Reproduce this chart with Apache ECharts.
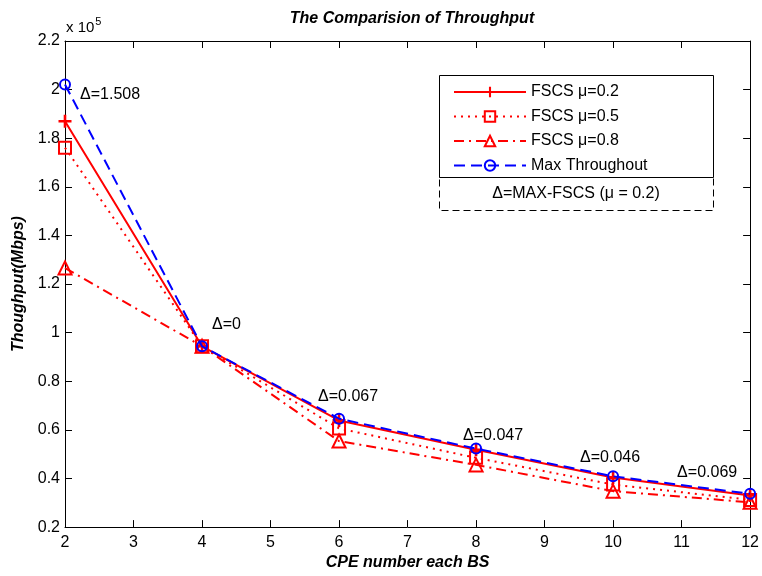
<!DOCTYPE html>
<html>
<head>
<meta charset="utf-8">
<script src="https://cdn.jsdelivr.net/npm/echarts@6/dist/echarts.min.js"></script>
<style>
html,body{margin:0;padding:0;background:#fff;}
#chart{width:762px;height:576px;}
</style>
</head>
<body>
<div id="chart"></div>
<script>
// ---- data (throughput values, raw units) ----
var cpeNumbers = [2, 4, 6, 8, 10, 12];
var fscs02 = [187000, 94400, 63900, 51800, 40400, 33000];
var fscs05 = [176100, 94400, 60600, 48500, 37500, 31200];
var fscs08 = [126600, 94400, 55400, 45600, 34800, 30200];
var maxThroughput = [202100, 94400, 64600, 52300, 40900, 33700];
var deltaLabels = ['\u0394=1.508', '\u0394=0', '\u0394=0.067', '\u0394=0.047', '\u0394=0.046', '\u0394=0.069'];
var seriesNames = ['FSCS \u03bc=0.2', 'FSCS \u03bc=0.5', 'FSCS \u03bc=0.8', 'Max Throughout'];
var yTicks = [20000, 220000, 20000]; // min, max, interval
var xTicks = [2, 12, 1];

function pairs(vals) { return cpeNumbers.map(function (x, i) { return [x, vals[i]]; }); }

var FONT = '"Liberation Sans", Arial, sans-serif';
var RED = '#ff0000', BLUE = '#0000ff';
var labelOffsets = [[15, 10], [10, -22], [-21, -22], [-13, -13], [-33, -19], [-73, -21]];

var maxData = pairs(maxThroughput).map(function (p, i) {
  return {
    value: p,
    label: {
      show: true, formatter: deltaLabels[i], position: 'inside', align: 'left', verticalAlign: 'middle',
      offset: labelOffsets[i], color: '#000', fontSize: 16, fontFamily: FONT
    }
  };
});

var plusPath = 'path://M4,0 H6 V4 H10 V6 H6 V10 H4 V6 H0 V4 H4 Z';

var axisCommon = {
  type: 'value',
  axisLine: { show: true, onZero: false, lineStyle: { color: '#000', width: 1 } },
  axisTick: { show: true, inside: true, length: 7, lineStyle: { color: '#000' } },
  splitLine: { show: false }
};

var option = {
  backgroundColor: '#fff',
  animation: false,
  title: {
    text: 'The Comparision of Throughput',
    left: 407, top: 6, textAlign: 'center',
    textStyle: { fontFamily: FONT, fontSize: 16, fontWeight: 'bold', fontStyle: 'italic', color: '#000' }
  },
  grid: { left: 65, right: 7, top: 41, bottom: 43, containLabel: false },
  legend: {
    orient: 'vertical', left: 448, top: 79, z: 110,
    itemWidth: 72, itemHeight: 13, itemGap: 8.5,
    textStyle: { fontFamily: FONT, fontSize: 16, color: '#000' },
    data: seriesNames
  },
  xAxis: [
    Object.assign({}, axisCommon, {
      min: xTicks[0], max: xTicks[1], interval: xTicks[2], position: 'bottom',
      name: 'CPE number each BS', nameLocation: 'middle', nameGap: 27,
      nameTextStyle: { fontFamily: FONT, fontSize: 16, fontWeight: 'bold', fontStyle: 'italic', color: '#000' },
      axisLabel: { fontFamily: FONT, fontSize: 16, color: '#000', margin: 7 }
    }),
    Object.assign({}, axisCommon, {
      min: xTicks[0], max: xTicks[1], interval: xTicks[2], position: 'top',
      axisLabel: { show: false }
    })
  ],
  yAxis: [
    Object.assign({}, axisCommon, {
      min: yTicks[0], max: yTicks[1], interval: yTicks[2], position: 'left',
      name: 'Thoughput(Mbps)', nameLocation: 'middle', nameGap: 35,
      nameTextStyle: { fontFamily: FONT, fontSize: 16, fontWeight: 'bold', fontStyle: 'italic', color: '#000' },
      axisLabel: {
        fontFamily: FONT, fontSize: 16, color: '#000', margin: 5,
        formatter: function (v) { return String(+(v / 1e5).toFixed(1)); }
      }
    }),
    Object.assign({}, axisCommon, {
      min: yTicks[0], max: yTicks[1], interval: yTicks[2], position: 'right',
      axisLabel: { show: false }
    })
  ],
  graphic: [
    {
      type: 'rect', shape: { x: 439.5, y: 177.5, width: 274, height: 33 }, z: 100,
      style: { fill: '#fff', stroke: '#000', lineWidth: 1, lineDash: [7, 4] }
    },
    {
      type: 'rect', shape: { x: 439.5, y: 75.5, width: 274, height: 102 }, z: 100,
      style: { fill: '#fff', stroke: '#000', lineWidth: 1 }
    },
    {
      type: 'text', x: 576, y: 194, z: 101,
      style: { text: '\u0394=MAX-FSCS (\u03bc = 0.2)', font: '16px ' + FONT, fill: '#000', align: 'center', verticalAlign: 'middle' }
    },
    {
      type: 'text', x: 66, y: 28, z: 101,
      style: {
        text: '{a|x 10}{b|5}', verticalAlign: 'middle', align: 'left',
        rich: {
          a: { font: '15px ' + FONT, fill: '#000' },
          b: { font: '11px ' + FONT, fill: '#000', verticalAlign: 'top', padding: [0, 0, 12, 1] }
        }
      }
    }
  ],
  series: [
    {
      name: seriesNames[0], type: 'line', data: pairs(fscs02), z: 4,
      symbol: plusPath, symbolSize: 13,
      lineStyle: { color: RED, width: 2, type: 'solid' },
      itemStyle: { color: RED }
    },
    {
      name: seriesNames[1], type: 'line', data: pairs(fscs05), z: 3,
      symbol: 'rect', symbolSize: 12,
      lineStyle: { color: RED, width: 2, type: [2, 5] },
      itemStyle: { color: 'rgba(255,255,255,0)', borderColor: RED, borderWidth: 2 }
    },
    {
      name: seriesNames[2], type: 'line', data: pairs(fscs08), z: 3,
      symbol: 'triangle', symbolSize: 13,
      lineStyle: { color: RED, width: 2, type: [10, 5, 2, 5] },
      itemStyle: { color: 'rgba(255,255,255,0)', borderColor: RED, borderWidth: 2 }
    },
    {
      name: seriesNames[3], type: 'line', data: maxData, z: 5,
      symbol: 'circle', symbolSize: 10,
      lineStyle: { color: BLUE, width: 2, type: [11, 6] },
      itemStyle: { color: 'rgba(255,255,255,0)', borderColor: BLUE, borderWidth: 2 }
    }
  ]
};

var chart = echarts.init(document.getElementById('chart'), null, { renderer: 'canvas' });
chart.setOption(option);
</script>
</body>
</html>
